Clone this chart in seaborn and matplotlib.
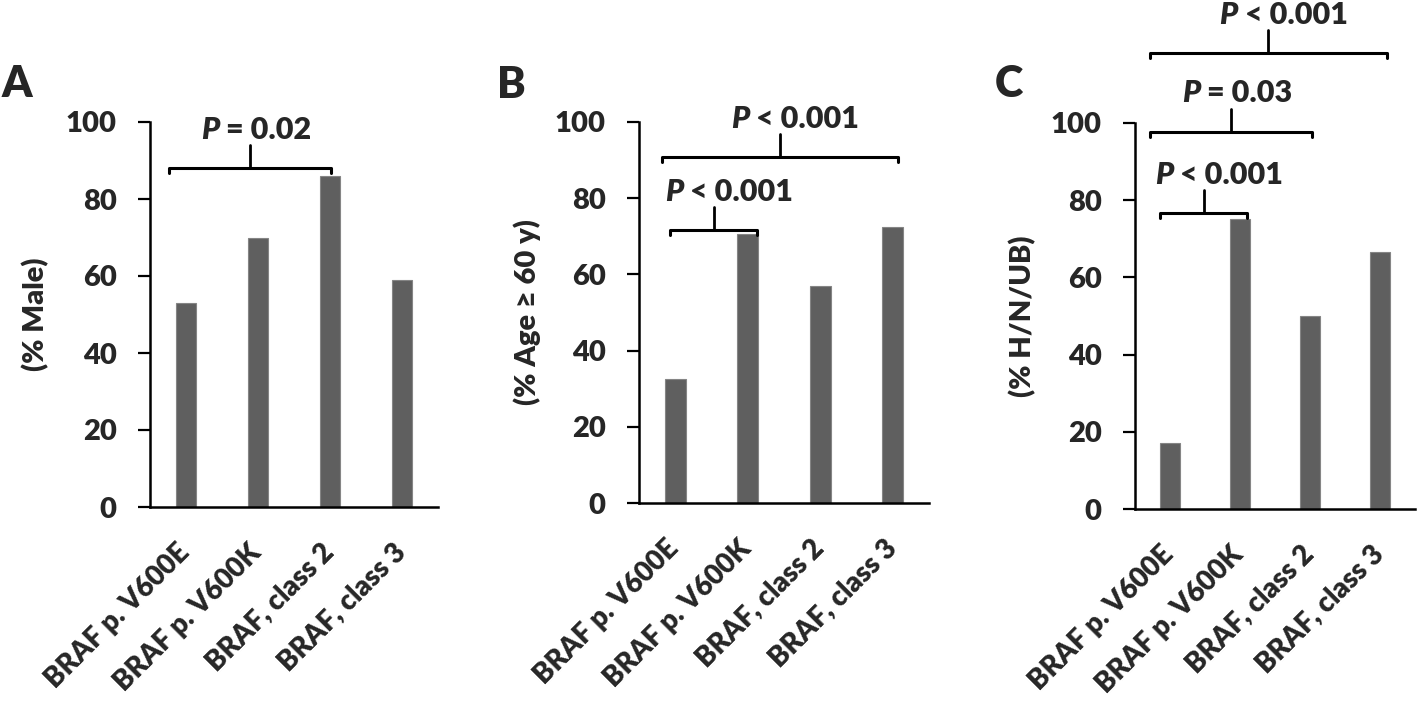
import numpy as np
import pandas as pd
import seaborn as sns
import matplotlib.pyplot as plt
from matplotlib.transforms import offset_copy, ScaledTranslation

# Data
categories = ['BRAF p.V600E', 'BRAF p.V600K', 'BRAF, class 2', 'BRAF, class 3']
male_pct = [53, 70, 86, 59]
age60_pct = [32.5, 70.5, 57, 72.5]
hnub_pct = [17, 75, 50, 66.5]
panel_letters = ['A', 'B', 'C']
ylabels = ['(% Male)', '(% Age \u2265 60 y)', '(% H/N/UB)']
tick_labels = ['BRAF p. V600E', 'BRAF p. V600K', 'BRAF, class 2', 'BRAF, class 3']

# brackets: (panel, left x, right x, y level, relation, p value)
brackets = [
    (0, -0.24, 2.01, 88, '=', '0.02'),
    (1, -0.07, 1.13, 71.7, '<', '0.001'),
    (1, -0.18, 3.07, 90.8, '<', '0.001'),
    (2, -0.14, 1.10, 76.7, '<', '0.001'),
    (2, -0.29, 2.03, 97.7, '=', '0.03'),
    (2, -0.29, 3.10, 118.1, '<', '0.001'),
]

sns.set_style('white')
plt.rcParams['font.family'] = ['Lato', 'DejaVu Sans']
WT = 'heavy'

fig = plt.figure(figsize=(14.18, 7.05), dpi=100)
W, H = 1418, 705
# axes boxes in pixels: left, right, top, bottom
boxes = [(150, 438, 122, 507), (639, 929, 122, 503), (1135, 1415, 123, 509)]
ylabel_x = [36, 527, 1023]
letter_pos = [(2, 97), (497, 98), (995, 97)]

bar_color = '#5f5f5f'
axes = []
for i, vals in enumerate([male_pct, age60_pct, hnub_pct]):
    l, r, t, b = boxes[i]
    ax = fig.add_axes([l / W, (H - b) / H, (r - l) / W, (b - t) / H])
    df = pd.DataFrame({'group': categories, 'value': vals})
    sns.barplot(data=df, x='group', y='value', ax=ax, color=bar_color,
                width=0.29, saturation=1, edgecolor='#858585', linewidth=0.8)
    ax.set_ylim(0, 100)
    ax.set_xlim(-0.5, 3.5)
    ax.set_yticks([0, 20, 40, 60, 80, 100])
    ax.set_xticks(range(4))
    ax.tick_params(axis='y', direction='out', length=9, width=1.6,
                   labelsize=21, pad=15, left=True, color='black')
    ax.tick_params(axis='x', length=0, pad=23)
    ax.set_xticklabels(tick_labels, rotation=45, ha='right', va='top',
                       rotation_mode='anchor', fontsize=20, fontweight=WT)
    shift = ScaledTranslation(-10 / 100, 0, fig.dpi_scale_trans)
    for lab in ax.get_xticklabels():
        lab.set_transform(lab.get_transform() + shift)
    for lab in ax.get_yticklabels():
        lab.set_fontweight(WT)
    for s in ['top', 'right']:
        ax.spines[s].set_visible(False)
    for s in ['left', 'bottom']:
        ax.spines[s].set_linewidth(1.8)
        ax.spines[s].set_color('black')
    ax.set_xlabel('')
    ax.set_ylabel('')
    fig.text(ylabel_x[i] / W, (H - (t + b) / 2) / H, ylabels[i], rotation=90,
             ha='center', va='center', fontsize=21, fontweight=WT)
    lx, ly = letter_pos[i]
    fig.text(lx / W, (H - ly) / H, panel_letters[i], ha='left', va='baseline',
             fontsize=31, fontweight=WT)
    axes.append(ax)

# significance brackets
for p, x1, x2, y, rel, pv in brackets:
    ax = axes[p]
    hook = 1.3
    stem = 6.0
    xm = (x1 + x2) / 2
    ax.plot([x1, x1, x2, x2], [y - hook, y, y, y - hook], color='black',
            lw=2.2, clip_on=False, solid_capstyle='round', solid_joinstyle='round')
    ax.plot([xm, xm], [y, y + stem], color='black', lw=2.0, clip_on=False)
    tr = offset_copy(ax.transData, fig=fig, x=-22, y=11, units='points')
    ax.text(xm, y + stem, 'P', transform=tr, ha='right', va='center',
            fontsize=22, fontweight=WT, style='italic', clip_on=False)
    tr2 = offset_copy(ax.transData, fig=fig, x=-17, y=11, units='points')
    ax.text(xm, y + stem, rel + ' ' + pv, transform=tr2, ha='left', va='center',
            fontsize=22, fontweight=WT, clip_on=False)

fig.savefig('out.png', dpi=100)
